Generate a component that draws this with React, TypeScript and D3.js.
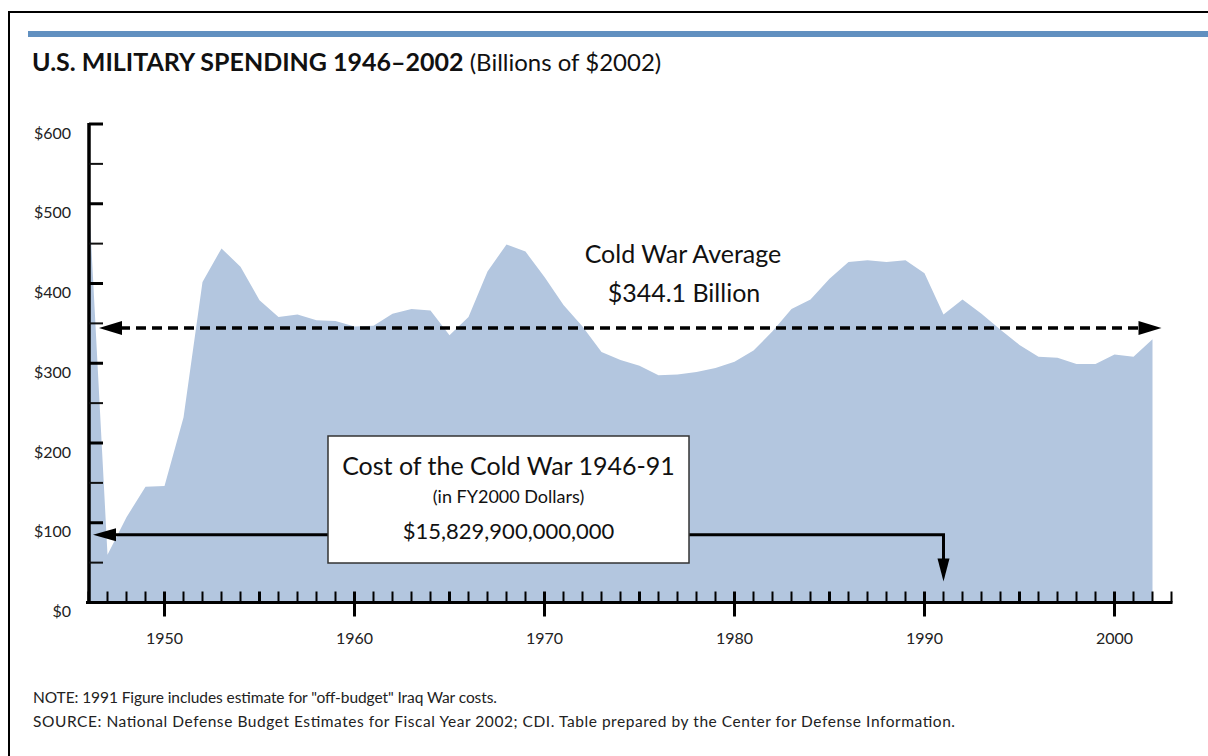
import React from 'react';
import * as d3 from 'd3';

// U.S. military spending, billions of 2002 dollars, one value per fiscal year from 1946
const firstYear = 1946;
const spending = [
  515, 60, 107, 145, 146, 232, 402, 444, 421, 379,
  358, 361, 354, 353, 346, 347, 362, 368, 366, 335,
  358, 415, 449, 440, 408, 373, 346, 314, 304, 297,
  285, 286, 289, 294, 302, 316, 340, 368, 380, 406,
  427, 429, 427, 429, 413, 361, 380, 362, 342, 323,
  308, 307, 299, 299, 311, 308, 330,
];
const years = spending.map((_, i) => firstYear + i);

const yTickValues = [0, 100, 200, 300, 400, 500, 600];
const yTickLabels = ['$0', '$100', '$200', '$300', '$400', '$500', '$600'];
const xLabelYears = [1950, 1960, 1970, 1980, 1990, 2000];

const coldWarAverage = 344.1;
const coldWarEnd = 1991;
const costLines = ['Cost of the Cold War 1946-91', '(in FY2000 Dollars)', '$15,829,900,000,000'];
const avgLines = ['Cold War Average', '$344.1 Billion'];
const titleBold = 'U.S. MILITARY SPENDING 1946–2002';
const titleRest = ' (Billions of $2002)';
const notes = [
  'NOTE: 1991 Figure includes estimate for "off-budget" Iraq War costs.',
  'SOURCE: National Defense Budget Estimates for Fiscal Year 2002; CDI. Table prepared by the Center for Defense Information.',
];
const noteWidths = [464, 922];

const W = 1208;
const H = 756;
const font = 'Lato, "Open Sans", sans-serif';

export default function App() {
  const x = d3.scaleLinear().domain([1946, 2003]).range([88.5, 1171.5]);
  const y = d3.scaleLinear().domain([0, 600]).range([602.5, 124]);

  const area = d3
    .area<number>()
    .x((d, i) => x(years[i]))
    .y0(y(0))
    .y1((d) => y(d));

  const axisY = y(0);
  const minorYears = d3.range(1946, 2004);
  const minorY = d3.range(50, 600, 100);

  // annotation arrows
  const avgY = y(coldWarAverage);
  const avgLeft = x(1946) + 10.5;
  const avgRight = x(2002) + 9;
  const costY = y(85);
  const costLeft = x(1946) + 4.5;
  const boxX0 = 328;
  const boxX1 = 689;
  const boxY0 = 436;
  const boxY1 = 563;
  const boxCx = (boxX0 + boxX1) / 2;
  const downX = x(coldWarEnd);
  const downTip = 581.5;
  const ah = 23;
  const aw = 7;

  return (
    <svg
      width={W}
      height={H}
      style={{ position: 'absolute', left: 0, top: 0, background: '#fff' }}
      fontFamily={font}
    >
      {/* frame and header band */}
      <line x1={8} y1={12} x2={W} y2={12} stroke="#000" strokeWidth={2} />
      <line x1={9} y1={11} x2={9} y2={H} stroke="#000" strokeWidth={2} />
      <rect x={28} y={31} width={W - 28} height={6} fill="#6190c0" />

      <text x={32} y={71} fill="#111">
        <tspan fontWeight="bold" fontSize={25}>{titleBold}</tspan>
        <tspan fontSize={24}>{titleRest}</tspan>
      </text>

      {/* area */}
      <path d={area(spending) || ''} fill="#b3c6df" />

      {/* y axis */}
      <line x1={89} y1={y(600) - 1} x2={89} y2={axisY + 1.5} stroke="#000" strokeWidth={3.5} />
      {yTickValues.map((v, i) => (
        <g key={v}>
          <line x1={89} x2={103} y1={y(v)} y2={y(v)} stroke="#000" strokeWidth={3} />
          <text x={71} y={y(v) + 14.5} fontSize={16} textAnchor="end" fill="#222">
            {yTickLabels[i]}
          </text>
        </g>
      ))}
      {minorY.map((v) => (
        <line key={v} x1={89} x2={103} y1={y(v)} y2={y(v)} stroke="#111" strokeWidth={2} />
      ))}

      {/* x axis */}
      <line x1={86} x2={x(2003) + 1} y1={axisY} y2={axisY} stroke="#000" strokeWidth={3} />
      {minorYears.map((yr) => {
        const major = yr % 10 === 0;
        const mid = yr % 5 === 0;
        return (
          <line
            key={yr}
            x1={x(yr)}
            x2={x(yr)}
            y1={axisY - 11}
            y2={major ? axisY + 14 : axisY}
            stroke="#000"
            strokeWidth={major || mid ? 3 : 2}
          />
        );
      })}
      {xLabelYears.map((yr) => (
        <text key={yr} x={x(yr)} y={644} fontSize={16} textAnchor="middle" fill="#222">
          {yr}
        </text>
      ))}

      {/* cold war average */}
      <line
        x1={avgLeft + ah - 2}
        x2={avgRight - ah + 2}
        y1={avgY}
        y2={avgY}
        stroke="#000"
        strokeWidth={3.5}
        strokeDasharray="10 6"
      />
      <path
        d={`M${avgLeft},${avgY} L${avgLeft + ah},${avgY - aw} L${avgLeft + ah},${avgY + aw} Z`}
        fill="#000"
      />
      <path
        d={`M${avgRight},${avgY} L${avgRight - ah},${avgY - aw} L${avgRight - ah},${avgY + aw} Z`}
        fill="#000"
      />
      <text x={683} y={263} fontSize={25} textAnchor="middle" fill="#111">
        {avgLines[0]}
      </text>
      <text x={684} y={302} fontSize={25} textAnchor="middle" fill="#111">
        {avgLines[1]}
      </text>

      {/* cost of the cold war */}
      <polyline
        points={`${costLeft + ah - 2},${costY} ${boxX0},${costY}`}
        fill="none"
        stroke="#000"
        strokeWidth={3}
      />
      <polyline
        points={`${boxX1},${costY} ${downX},${costY} ${downX},${downTip - ah + 2}`}
        fill="none"
        stroke="#000"
        strokeWidth={3}
      />
      <path
        d={`M${costLeft},${costY} L${costLeft + ah},${costY - 6.5} L${costLeft + ah},${costY + 6.5} Z`}
        fill="#000"
      />
      <path
        d={`M${downX},${downTip} L${downX - 6},${downTip - ah} L${downX + 6},${downTip - ah} Z`}
        fill="#000"
      />
      <rect
        x={boxX0}
        y={boxY0}
        width={boxX1 - boxX0}
        height={boxY1 - boxY0}
        fill="#fff"
        stroke="#333"
        strokeWidth={1.5}
      />
      <text x={boxCx} y={475} fontSize={25} textAnchor="middle" fill="#111">
        {costLines[0]}
      </text>
      <text x={boxCx} y={503} fontSize={18} textAnchor="middle" fill="#111">
        {costLines[1]}
      </text>
      <text x={boxCx} y={539} fontSize={22} textAnchor="middle" fill="#111">
        {costLines[2]}
      </text>

      {/* notes */}
      {notes.map((n, i) => (
        <text
          key={i}
          x={33}
          y={703 + i * 24}
          fontSize={15.5}
          fill="#222"
          textLength={noteWidths[i]}
          lengthAdjust="spacing"
        >
          {n}
        </text>
      ))}
    </svg>
  );
}
